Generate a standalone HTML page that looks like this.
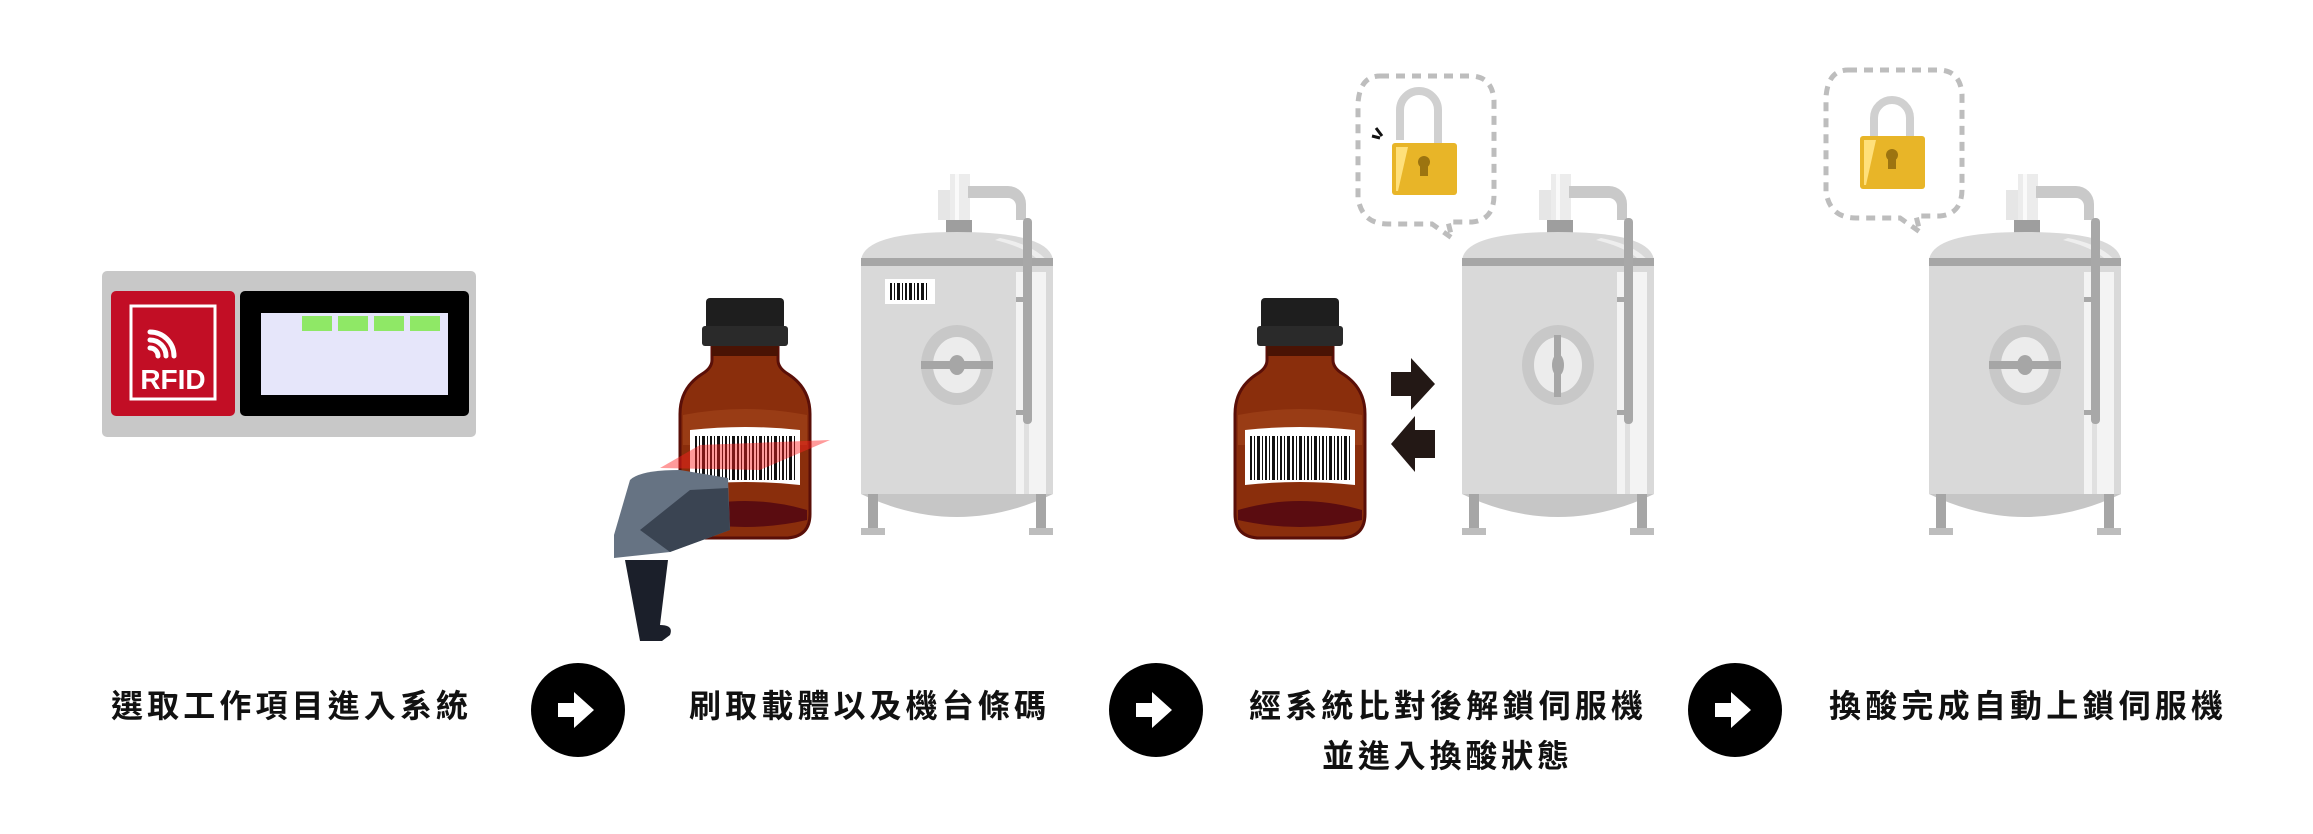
<!DOCTYPE html>
<html><head><meta charset="utf-8"><style>
html,body{margin:0;padding:0;background:#fff;}
svg{display:block;}
text{font-family:"Liberation Sans","Noto Sans CJK TC",sans-serif;font-weight:bold;fill:#111;}
</style></head><body>
<svg width="2313" height="834" viewBox="0 0 2313 834" xmlns="http://www.w3.org/2000/svg">
<defs>
<g id="tank">
  <rect x="938" y="190" width="12" height="30" fill="#e6e6e6"/>
  <rect x="950" y="174" width="20" height="48" fill="#ececec"/>
  <rect x="955" y="174" width="4" height="48" fill="#fafafa"/>
  <path d="M968 186 h40 a18 18 0 0 1 18 18 v16 h-10 v-14 a8 8 0 0 0 -8 -8 h-40z" fill="#c9c9c9"/>
  <rect x="946" y="220" width="26" height="14" fill="#9e9e9e"/>
  <path d="M861 262 Q861 232 957 232 Q1053 232 1053 262 Z" fill="#d9d9d9"/>
  <path d="M1000 238 Q1035 245 1048 262 L1040 262 Q1028 248 995 240Z" fill="#eeeeee"/>
  <rect x="861" y="258" width="192" height="8" fill="#a6a6a6"/>
  <rect x="861" y="266" width="192" height="228" fill="#d9d9d9"/>
  <rect x="1016" y="272" width="30" height="222" fill="#f3f3f3"/>
  <rect x="1024" y="272" width="5" height="222" fill="#e0e0e0"/>
  <path d="M861 494 Q957 540 1053 494Z" fill="#c6c6c6"/>
  <rect x="1023" y="218" width="9" height="206" rx="4" fill="#a8a8a8"/>
  <rect x="1016" y="297" width="10" height="5" fill="#a8a8a8"/>
  <rect x="1016" y="410" width="10" height="5" fill="#a8a8a8"/>
  <rect x="868" y="494" width="10" height="36" fill="#a6a6a6"/>
  <rect x="1036" y="494" width="10" height="36" fill="#a6a6a6"/>
  <rect x="861" y="528" width="24" height="7" fill="#bdbdbd"/>
  <rect x="1029" y="528" width="24" height="7" fill="#bdbdbd"/>
  <ellipse cx="957" cy="365" rx="36" ry="40" fill="#c8c8c8"/>
  <ellipse cx="957" cy="365" rx="24" ry="28" fill="#ececec"/>
</g>
<g id="bottle">
  <path d="M712 340 h66 v20 q0 8 10 14 q22 14 22 40 v100 q0 22 -22 24 h-86 q-22 -2 -22 -24 v-100 q0 -26 22 -40 q10 -6 10 -14z" fill="#8a2e0c" stroke="#5a0f08" stroke-width="3"/>
  <rect x="712" y="340" width="66" height="16" fill="#4a1304"/>
  <path d="M683 415 q62 -12 124 0 v30 h-124z" fill="#a4461c" opacity="0.6"/>
  <path d="M683 510 q62 -18 124 0 v10 q-62 14 -124 0z" fill="#5a0c10"/>
  <rect x="706" y="298" width="78" height="36" rx="4" fill="#1e1e1e"/>
  <rect x="702" y="326" width="86" height="20" rx="3" fill="#2a2a2a"/>
  <path d="M690 430 q55 -6 110 0 v55 q-55 -6 -110 0z" fill="#fff"/>
  <g fill="#111">
   <rect x="695" y="436" width="2" height="44"/><rect x="699" y="436" width="1" height="44"/><rect x="702" y="436" width="3" height="44"/><rect x="707" y="436" width="1" height="44"/><rect x="710" y="436" width="2" height="44"/><rect x="714" y="436" width="1" height="44"/><rect x="717" y="436" width="3" height="44"/><rect x="722" y="436" width="1" height="44"/><rect x="725" y="436" width="2" height="44"/><rect x="729" y="436" width="1" height="44"/><rect x="732" y="436" width="3" height="44"/><rect x="737" y="436" width="2" height="44"/><rect x="741" y="436" width="1" height="44"/><rect x="744" y="436" width="3" height="44"/><rect x="749" y="436" width="1" height="44"/><rect x="752" y="436" width="2" height="44"/><rect x="756" y="436" width="1" height="44"/><rect x="759" y="436" width="3" height="44"/><rect x="764" y="436" width="1" height="44"/><rect x="767" y="436" width="2" height="44"/><rect x="771" y="436" width="1" height="44"/><rect x="774" y="436" width="3" height="44"/><rect x="779" y="436" width="1" height="44"/><rect x="782" y="436" width="2" height="44"/><rect x="786" y="436" width="1" height="44"/><rect x="789" y="436" width="3" height="44"/><rect x="794" y="436" width="1" height="44"/>
  </g>
</g>
</defs>

<rect x="102" y="271" width="374" height="166" rx="5" fill="#c8c8c8"/>
<rect x="111" y="291" width="124" height="125" rx="5" fill="#c20e25"/>
<rect x="131" y="306" width="84" height="93" fill="none" stroke="#fff" stroke-width="3"/>
<path d="M150 332 a24 24 0 0 1 24 24" fill="none" stroke="#fff" stroke-width="5" stroke-linecap="round"/>
<path d="M150 340 a16 16 0 0 1 16 16" fill="none" stroke="#fff" stroke-width="5" stroke-linecap="round"/>
<path d="M150 348 a8 8 0 0 1 8 8" fill="none" stroke="#fff" stroke-width="5" stroke-linecap="round"/>
<text x="173" y="389" font-size="28" text-anchor="middle" style="fill:#fff">RFID</text>
<rect x="240" y="291" width="229" height="125" rx="5" fill="#000"/>
<rect x="261" y="313" width="187" height="82" fill="#e6e6fa"/>
<rect x="302" y="316" width="30" height="15" fill="#8fe866"/>
<rect x="338" y="316" width="30" height="15" fill="#8fe866"/>
<rect x="374" y="316" width="30" height="15" fill="#8fe866"/>
<rect x="410" y="316" width="30" height="15" fill="#8fe866"/>

<use href="#tank"/>
<rect x="885" y="279" width="50" height="25" fill="#fff"/>
<g fill="#111"><rect x="890" y="283" width="2" height="17"/><rect x="894" y="283" width="1" height="17"/><rect x="897" y="283" width="3" height="17"/><rect x="902" y="283" width="1" height="17"/><rect x="905" y="283" width="2" height="17"/><rect x="909" y="283" width="3" height="17"/><rect x="914" y="283" width="1" height="17"/><rect x="917" y="283" width="2" height="17"/><rect x="921" y="283" width="3" height="17"/><rect x="926" y="283" width="1" height="17"/></g>
<rect x="921" y="361" width="72" height="8" fill="#a6a6a6"/><ellipse cx="957" cy="365" rx="8" ry="10" fill="#a6a6a6"/>
<use href="#tank" x="601"/>
<rect x="1554" y="335" width="7" height="62" fill="#a6a6a6"/><ellipse cx="1558" cy="365" rx="6" ry="11" fill="#a6a6a6"/>
<use href="#tank" x="1068"/>
<rect x="1989" y="361" width="72" height="8" fill="#a6a6a6"/><ellipse cx="2025" cy="365" rx="8" ry="10" fill="#a6a6a6"/>

<use href="#bottle"/>
<path d="M660 468 L700 445 L830 440 L760 470 Z" fill="#ff2020" opacity="0.45"/>
<path d="M625 560 L668 560 L660 625 q14 0 10 10 l-8 6 h-22z" fill="#1b1f2a"/>
<path d="M614 535 L630 480 Q640 470 680 470 L728 478 L730 530 L670 552 L614 558Z" fill="#667383"/>
<path d="M640 530 L690 490 L728 488 L730 530 L670 552Z" fill="#3a4452"/>
<use href="#bottle" x="555"/>
<path d="M1391 372 h20 v-14 l24 26 l-24 26 v-14 h-20z" fill="#231815"/>
<path d="M1435 430 h-20 v-14 l-24 28 l24 28 v-14 h20z" fill="#231815"/>

<path d="M1380 76 h90 q22 0 24 24 v95 q0 25 -22 27 h-24 l4 16 l-20 -14 h-44 q-26 0 -30 -26 v-95 q2 -27 22 -27z" fill="none" stroke="#bdbdbd" stroke-width="5" stroke-dasharray="9 7"/>
<path d="M1400 140 v-30 a19 19 0 0 1 38 0 v40" fill="none" stroke="#d0d0d0" stroke-width="8"/>
<rect x="1392" y="143" width="65" height="52" rx="3" fill="#e8b528"/>
<path d="M1396 147 h12 l-10 44 h-2z" fill="#ffe07a"/>
<circle cx="1424" cy="162" r="6" fill="#9c7410"/><rect x="1420" y="162" width="8" height="14" fill="#9c7410"/>
<path d="M1376 128 l6 8 M1372 136 l8 2" stroke="#111" stroke-width="3"/>
<path d="M1848 70 h90 q22 0 24 24 v95 q0 25 -22 27 h-24 l4 16 l-20 -14 h-44 q-26 0 -30 -26 v-95 q2 -27 22 -27z" fill="none" stroke="#bdbdbd" stroke-width="5" stroke-dasharray="9 7"/>
<path d="M1874 140 v-22 a18 18 0 0 1 36 0 v22" fill="none" stroke="#d0d0d0" stroke-width="8"/>
<rect x="1860" y="136" width="65" height="53" rx="3" fill="#e8b528"/>
<path d="M1864 140 h12 l-10 45 h-2z" fill="#ffe07a"/>
<circle cx="1892" cy="155" r="6" fill="#9c7410"/><rect x="1888" y="155" width="8" height="14" fill="#9c7410"/>

<g>
<circle cx="578" cy="710" r="47" fill="#000"/><path d="M558 703 h16 v-11 l20 18 l-20 18 v-11 h-16z" fill="#fff"/>
<circle cx="1156" cy="710" r="47" fill="#000"/><path d="M1136 703 h16 v-11 l20 18 l-20 18 v-11 h-16z" fill="#fff"/>
<circle cx="1735" cy="710" r="47" fill="#000"/><path d="M1715 703 h16 v-11 l20 18 l-20 18 v-11 h-16z" fill="#fff"/>
</g>

<text x="111" y="717" font-size="32" textLength="357" lengthAdjust="spacing">選取工作項目進入系統</text>
<text x="689" y="717" font-size="32" textLength="357" lengthAdjust="spacing">刷取載體以及機台條碼</text>
<text x="1249" y="717" font-size="32" textLength="394" lengthAdjust="spacing">經系統比對後解鎖伺服機</text>
<text x="1322" y="767" font-size="32" textLength="247" lengthAdjust="spacing">並進入換酸狀態</text>
<text x="1829" y="717" font-size="32" textLength="394" lengthAdjust="spacing">換酸完成自動上鎖伺服機</text>
</svg>
</body></html>
